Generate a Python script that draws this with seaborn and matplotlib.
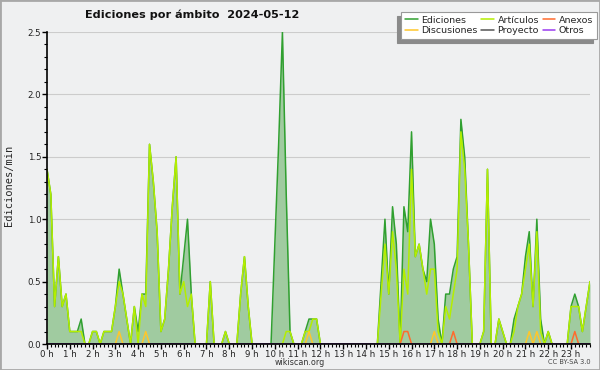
import numpy as np
import pandas as pd
import matplotlib
matplotlib.use("Agg")
import matplotlib.pyplot as plt
from matplotlib.lines import Line2D
from matplotlib.patches import Rectangle
from matplotlib.ticker import MultipleLocator, FormatStrFormatter
import seaborn as sns

# ediciones/min cada 10 minutos, de 00:00 a 23:50 (una fila por hora)
ediciones = [
    1.4, 1.2, 0.3, 0.7, 0.3, 0.4,
    0.1, 0.1, 0.1, 0.2, 0.0, 0.0,
    0.1, 0.1, 0.0, 0.1, 0.1, 0.1,
    0.3, 0.6, 0.4, 0.2, 0.0, 0.3,
    0.1, 0.4, 0.4, 1.6, 1.3, 0.9,
    0.1, 0.2, 0.6, 1.1, 1.5, 0.4,
    0.7, 1.0, 0.4, 0.0, 0.0, 0.0,
    0.0, 0.5, 0.0, 0.0, 0.0, 0.1,
    0.0, 0.0, 0.0, 0.4, 0.7, 0.3,
    0.0, 0.0, 0.0, 0.0, 0.0, 0.0,
    0.8, 1.6, 2.5, 1.2, 0.1, 0.0,
    0.0, 0.0, 0.1, 0.2, 0.2, 0.2,
    0.0, 0.0, 0.0, 0.0, 0.0, 0.0,
    0.0, 0.0, 0.0, 0.0, 0.0, 0.0,
    0.0, 0.0, 0.0, 0.0, 0.5, 1.0,
    0.4, 1.1, 0.8, 0.0, 1.1, 0.9,
    1.7, 0.7, 0.8, 0.6, 0.5, 1.0,
    0.8, 0.2, 0.0, 0.4, 0.4, 0.6,
    0.7, 1.8, 1.5, 0.8, 0.0, 0.0,
    0.0, 0.1, 1.4, 0.0, 0.0, 0.2,
    0.1, 0.0, 0.0, 0.2, 0.3, 0.4,
    0.7, 0.9, 0.3, 1.0, 0.2, 0.0,
    0.1, 0.0, 0.0, 0.0, 0.0, 0.0,
    0.3, 0.4, 0.3, 0.1, 0.3, 0.5,
]

articulos = [
    1.4, 1.2, 0.3, 0.7, 0.3, 0.4,
    0.1, 0.1, 0.1, 0.1, 0.0, 0.0,
    0.1, 0.1, 0.0, 0.1, 0.1, 0.1,
    0.3, 0.5, 0.4, 0.2, 0.0, 0.3,
    0.0, 0.4, 0.3, 1.6, 1.3, 0.9,
    0.1, 0.2, 0.6, 1.1, 1.5, 0.4,
    0.5, 0.3, 0.4, 0.0, 0.0, 0.0,
    0.0, 0.5, 0.0, 0.0, 0.0, 0.1,
    0.0, 0.0, 0.0, 0.4, 0.7, 0.3,
    0.0, 0.0, 0.0, 0.0, 0.0, 0.0,
    0.0, 0.0, 0.0, 0.1, 0.1, 0.0,
    0.0, 0.0, 0.1, 0.1, 0.2, 0.2,
    0.0, 0.0, 0.0, 0.0, 0.0, 0.0,
    0.0, 0.0, 0.0, 0.0, 0.0, 0.0,
    0.0, 0.0, 0.0, 0.0, 0.4, 0.8,
    0.4, 0.9, 0.6, 0.0, 0.6, 0.4,
    1.4, 0.7, 0.8, 0.6, 0.4, 0.6,
    0.6, 0.1, 0.0, 0.3, 0.2, 0.4,
    0.6, 1.7, 1.4, 0.8, 0.0, 0.0,
    0.0, 0.1, 1.4, 0.0, 0.0, 0.2,
    0.1, 0.0, 0.0, 0.1, 0.3, 0.4,
    0.6, 0.8, 0.3, 0.9, 0.1, 0.0,
    0.1, 0.0, 0.0, 0.0, 0.0, 0.0,
    0.3, 0.3, 0.3, 0.1, 0.3, 0.5,
]

discusiones = [
    0.0, 0.0, 0.0, 0.0, 0.0, 0.0,
    0.0, 0.0, 0.0, 0.0, 0.0, 0.0,
    0.0, 0.0, 0.0, 0.0, 0.0, 0.0,
    0.0, 0.1, 0.0, 0.0, 0.0, 0.0,
    0.0, 0.0, 0.1, 0.0, 0.0, 0.0,
    0.0, 0.0, 0.0, 0.0, 0.0, 0.0,
    0.0, 0.0, 0.0, 0.0, 0.0, 0.0,
    0.0, 0.0, 0.0, 0.0, 0.0, 0.0,
    0.0, 0.0, 0.0, 0.0, 0.0, 0.0,
    0.0, 0.0, 0.0, 0.0, 0.0, 0.0,
    0.0, 0.0, 0.0, 0.0, 0.0, 0.0,
    0.0, 0.0, 0.0, 0.1, 0.0, 0.0,
    0.0, 0.0, 0.0, 0.0, 0.0, 0.0,
    0.0, 0.0, 0.0, 0.0, 0.0, 0.0,
    0.0, 0.0, 0.0, 0.0, 0.0, 0.0,
    0.0, 0.0, 0.0, 0.0, 0.0, 0.0,
    0.0, 0.0, 0.0, 0.0, 0.0, 0.0,
    0.1, 0.0, 0.0, 0.0, 0.0, 0.0,
    0.0, 0.0, 0.0, 0.0, 0.0, 0.0,
    0.0, 0.0, 0.0, 0.0, 0.0, 0.0,
    0.0, 0.0, 0.0, 0.0, 0.0, 0.0,
    0.0, 0.1, 0.0, 0.1, 0.0, 0.0,
    0.0, 0.0, 0.0, 0.0, 0.0, 0.0,
    0.0, 0.0, 0.0, 0.0, 0.0, 0.0,
]

anexos = [
    0.0, 0.0, 0.0, 0.0, 0.0, 0.0,
    0.0, 0.0, 0.0, 0.0, 0.0, 0.0,
    0.0, 0.0, 0.0, 0.0, 0.0, 0.0,
    0.0, 0.0, 0.0, 0.0, 0.0, 0.0,
    0.0, 0.0, 0.0, 0.0, 0.0, 0.0,
    0.0, 0.0, 0.0, 0.0, 0.0, 0.0,
    0.0, 0.0, 0.0, 0.0, 0.0, 0.0,
    0.0, 0.0, 0.0, 0.0, 0.0, 0.0,
    0.0, 0.0, 0.0, 0.0, 0.0, 0.0,
    0.0, 0.0, 0.0, 0.0, 0.0, 0.0,
    0.0, 0.0, 0.0, 0.0, 0.0, 0.0,
    0.0, 0.0, 0.0, 0.0, 0.0, 0.0,
    0.0, 0.0, 0.0, 0.0, 0.0, 0.0,
    0.0, 0.0, 0.0, 0.0, 0.0, 0.0,
    0.0, 0.0, 0.0, 0.0, 0.0, 0.0,
    0.0, 0.0, 0.0, 0.0, 0.1, 0.1,
    0.0, 0.0, 0.0, 0.0, 0.0, 0.0,
    0.0, 0.0, 0.0, 0.0, 0.0, 0.1,
    0.0, 0.0, 0.0, 0.0, 0.0, 0.0,
    0.0, 0.0, 0.0, 0.0, 0.0, 0.0,
    0.0, 0.0, 0.0, 0.0, 0.0, 0.0,
    0.0, 0.0, 0.0, 0.0, 0.0, 0.0,
    0.0, 0.0, 0.0, 0.0, 0.0, 0.0,
    0.0, 0.1, 0.0, 0.0, 0.0, 0.0,
]

# sin ediciones en todo el dia
proyecto = [0.0] * 144
otros = [0.0] * 144

horas_labels = [f"{h} h" for h in range(24)]

colores = {
    "Ediciones": "#30a030",
    "Artículos": "#b4ee00",
    "Discusiones": "#ffc62a",
    "Anexos": "#ff6b2d",
    "Proyecto": "#555555",
    "Otros": "#9a3bf0",
}
relleno = "#a0cba0"
fondo = "#eff0f1"


def build_frame():
    series = {
        "Ediciones": ediciones,
        "Artículos": articulos,
        "Discusiones": discusiones,
        "Anexos": anexos,
        "Proyecto": proyecto,
        "Otros": otros,
    }
    horas = np.arange(len(ediciones)) / 6
    frames = []
    for nombre, valores in series.items():
        frames.append(pd.DataFrame({"hora": horas, "valor": valores, "serie": nombre}))
    return pd.concat(frames, ignore_index=True)


def main():
    sns.set_style("ticks")
    plt.rcParams["font.family"] = ["DejaVu Sans"]

    df = build_frame()
    fig = plt.figure(figsize=(6, 3.7), dpi=100, facecolor=fondo)
    ax = fig.add_axes([47 / 600, 26 / 370, 543 / 600, 312 / 370])
    ax.set_facecolor(fondo)

    ed = df[df["serie"] == "Ediciones"]
    ax.fill_between(ed["hora"], ed["valor"], 0, color=relleno, lw=0, zorder=1)

    orden = ["Ediciones", "Artículos", "Discusiones", "Anexos", "Proyecto", "Otros"]
    sns.lineplot(data=df, x="hora", y="valor", hue="serie", hue_order=orden,
                 palette=colores, linewidth=1.1, legend=False, errorbar=None,
                 ax=ax, zorder=2)

    ax.set_xlim(0, 143 / 6)
    ax.set_ylim(0, 2.5)
    ax.set_xlabel("")
    ax.set_ylabel("")

    ax.xaxis.set_minor_locator(MultipleLocator(1 / 6))
    ax.set_xticks(range(24))
    ax.set_xticklabels(horas_labels)
    ax.yaxis.set_major_locator(MultipleLocator(0.5))
    ax.yaxis.set_minor_locator(MultipleLocator(0.1))
    ax.yaxis.set_major_formatter(FormatStrFormatter("%.1f"))

    ax.tick_params(axis="both", which="major", direction="out", length=3.5,
                   width=1, color="black", labelsize=6.2, pad=0.5, labelcolor="#222222")
    ax.tick_params(axis="both", which="minor", direction="out", length=2.2,
                   width=0.8, color="black")

    ax.grid(axis="y", which="major", color="#cccccc", lw=0.8)
    ax.set_axisbelow(True)
    for lado in ["top", "right"]:
        ax.spines[lado].set_visible(False)
    for lado in ["left", "bottom"]:
        ax.spines[lado].set_color("black")
        ax.spines[lado].set_linewidth(1.2)
        ax.spines[lado].set_zorder(5)

    fig.text(85 / 600, 1 - 15 / 370, "Ediciones por ámbito  2024-05-12",
             fontsize=8.1, fontweight="bold", va="center", ha="left", color="#111111")
    fig.text(9 / 600, 1 - 185 / 370, "Ediciones/min", rotation=90,
             family="DejaVu Sans Mono", fontsize=7.5, va="center", ha="center")
    fig.text(300 / 600, 1 - 362.5 / 370, "wikiscan.org", fontsize=5.8,
             ha="center", va="center", color="#333333")
    fig.text(591 / 600, 1 - 362.5 / 370, "CC BY-SA 3.0", fontsize=4.8,
             ha="right", va="center", color="#444444")

    orden_leyenda = ["Ediciones", "Discusiones", "Artículos", "Proyecto", "Anexos", "Otros"]
    handles = [Line2D([], [], color=colores[n], lw=1.1) for n in orden_leyenda]
    leg = fig.legend(handles, orden_leyenda, ncol=3, loc="upper right",
                     bbox_to_anchor=(597 / 600, 1 - 12 / 370), fontsize=6.8,
                     frameon=True, fancybox=False,
                     shadow={"ox": -3, "oy": -3, "color": "#8a8a8a", "alpha": 1},
                     handlelength=1.3, handletextpad=0.4, columnspacing=0.4,
                     labelspacing=0.12, borderpad=0.4, borderaxespad=0)
    leg.get_frame().set_edgecolor("#999999")
    leg.get_frame().set_facecolor("white")
    leg.get_frame().set_linewidth(0.8)

    fig.patches.append(Rectangle((0, 0), 1, 1, transform=fig.transFigure,
                                 fill=False, edgecolor="#a8a8a8", lw=2))

    fig.savefig("out.png", dpi=100, facecolor=fondo)
    plt.close(fig)


if __name__ == "__main__":
    main()
